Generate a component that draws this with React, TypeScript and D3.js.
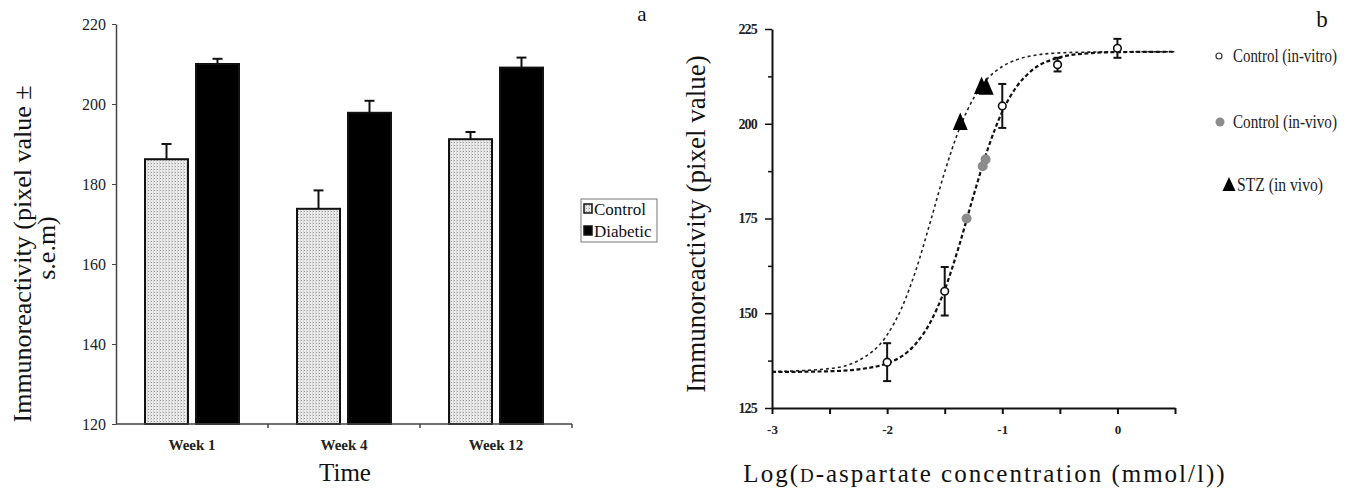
import * as d3 from 'd3';
import React, { useEffect, useRef } from "react";

// panel a: bar chart
const weeks = ["Week 1", "Week 4", "Week 12"];
const groups = ["Control", "Diabetic"];
const controlMeans = [186.2, 173.8, 191.2];
const controlErr = [3.8, 4.6, 1.8];
const diabeticMeans = [210.0, 197.8, 209.1];
const diabeticErr = [1.3, 3.0, 2.5];
const barTicks = [120, 140, 160, 180, 200, 220];

// panel b: dose response
const invitroLog = [-2, -1.5, -1, -0.52, 0];
const invitroMean = [137.1, 155.8, 204.7, 215.6, 219.9];
const invitroErr = [5.0, 6.4, 5.8, 1.8, 2.5];
const invivoLog = [-1.31, -1.17, -1.145];
const invivoMean = [175.0, 188.8, 190.6];
const stzLog = [-1.365, -1.18, -1.14];
const stzMean = [200.3, 209.8, 209.6];

// fitted curves
const curveLog = [-3, -2.5, -2.25, -2, -1.875, -1.75, -1.625, -1.5, -1.375, -1.25, -1.125, -1, -0.875, -0.75, -0.5, -0.25, 0, 0.5];
const controlFit = [134.5, 134.7, 135.2, 136.8, 138.6, 142.0, 147.6, 156.2, 167.8, 181.0, 193.4, 203.2, 209.8, 213.9, 217.5, 218.6, 218.9, 219.0];
const stzFit = [134.6, 135.4, 137.5, 144.3, 151.3, 161.4, 174.1, 187.3, 198.5, 206.7, 212.0, 215.1, 216.9, 217.9, 218.7, 218.9, 219.0, 219.0];
const doseYTicks = [125, 137.5, 150, 162.5, 175, 187.5, 200, 212.5, 225];
const doseXTicks = [-3, -2.5, -2, -1.5, -1, -0.5, 0, 0.5];

const legendB = ["Control (in-vitro)", "Control (in-vivo)", "STZ (in vivo)"];

const FONT = "'Liberation Serif', 'Times New Roman', serif";

const App = () => {
    const ref = useRef<SVGSVGElement>(null);

    useEffect(() => {
        const svg = d3.select(ref.current);
        svg.selectAll("*").remove();

        const defs = svg.append("defs");
        const pat = defs.append("pattern")
            .attr("id", "dots")
            .attr("width", 3)
            .attr("height", 3)
            .attr("patternUnits", "userSpaceOnUse");
        pat.append("rect").attr("width", 3).attr("height", 3).attr("fill", "#ececec");
        pat.append("rect").attr("x", 1).attr("y", 1).attr("width", 1).attr("height", 1).attr("fill", "#9a9a9a");
        pat.append("rect").attr("x", 0).attr("y", 0).attr("width", 1).attr("height", 3).attr("fill", "#d6d6d6");

        // ---------- panel a ----------
        const x = d3.scaleBand().domain(weeks).range([116, 572]);
        const xs = d3.scaleBand().domain(groups).range([0, x.bandwidth()])
            .paddingInner(0.157).paddingOuter(0.569);
        const y = d3.scaleLinear().domain([120, 220]).range([424, 24]);

        const a = svg.append("g");

        const rows = weeks.map((w, i) => [
            { week: w, group: "Control", v: controlMeans[i], e: controlErr[i] },
            { week: w, group: "Diabetic", v: diabeticMeans[i], e: diabeticErr[i] }
        ]).flat();

        // error bars behind the bars
        rows.forEach(function (d) {
            const cx = x(d.week)! + xs(d.group)! + xs.bandwidth() / 2;
            a.append("line")
                .attr("x1", cx).attr("x2", cx)
                .attr("y1", y(d.v)).attr("y2", y(d.v + d.e))
                .attr("stroke", "#111").attr("stroke-width", 2);
            a.append("line")
                .attr("x1", cx - 5).attr("x2", cx + 5)
                .attr("y1", y(d.v + d.e)).attr("y2", y(d.v + d.e))
                .attr("stroke", "#111").attr("stroke-width", 2);
        });

        a.selectAll("rect.bar")
            .data(rows)
            .enter().append("rect")
            .attr("class", "bar")
            .attr("x", d => x(d.week)! + xs(d.group)!)
            .attr("y", d => y(d.v))
            .attr("width", xs.bandwidth())
            .attr("height", d => y(120) - y(d.v))
            .attr("fill", d => d.group === "Control" ? "url(#dots)" : "#000")
            .attr("stroke", "#111")
            .attr("stroke-width", 2);

        const yAxisA = a.append("g")
            .attr("transform", "translate(116,0)")
            .call(d3.axisLeft(y).tickValues(barTicks).tickSize(4).tickSizeOuter(0).tickPadding(6));
        yAxisA.select(".domain").attr("stroke", "#444").attr("stroke-width", 1.5);
        yAxisA.selectAll(".tick line").attr("stroke", "#444");
        yAxisA.selectAll("text").attr("font-family", FONT).attr("font-size", 16).attr("fill", "#222");

        a.append("line")
            .attr("x1", 116).attr("x2", 572)
            .attr("y1", y(120)).attr("y2", y(120))
            .attr("stroke", "#444").attr("stroke-width", 1.5);
        weeks.forEach(function (w) {
            const tx = x(w)! + x.bandwidth();
            a.append("line")
                .attr("x1", tx).attr("x2", tx)
                .attr("y1", y(120)).attr("y2", y(120) + 4)
                .attr("stroke", "#444").attr("stroke-width", 1.5);
            a.append("text")
                .attr("x", x(w)! + x.bandwidth() / 2)
                .attr("y", 450)
                .attr("text-anchor", "middle")
                .attr("font-family", FONT)
                .attr("font-weight", "bold")
                .attr("font-size", 15)
                .attr("fill", "#222")
                .text(w);
        });

        a.append("text")
            .attr("x", 345).attr("y", 481)
            .attr("text-anchor", "middle")
            .attr("font-family", FONT).attr("font-size", 25).attr("fill", "#111")
            .text("Time");

        a.append("text")
            .attr("transform", "translate(31,254) rotate(-90)")
            .attr("text-anchor", "middle")
            .attr("font-family", FONT).attr("font-size", 26).attr("fill", "#111")
            .text("Immunoreactivity (pixel value \u00b1");
        a.append("text")
            .attr("transform", "translate(55,248) rotate(-90)")
            .attr("text-anchor", "middle")
            .attr("font-family", FONT).attr("font-size", 26).attr("fill", "#111")
            .text("s.e.m)");

        a.append("text")
            .attr("x", 642).attr("y", 21)
            .attr("text-anchor", "middle")
            .attr("font-family", FONT).attr("font-size", 21).attr("fill", "#111")
            .text("a");

        // legend a
        const lg = a.append("g");
        lg.append("rect")
            .attr("x", 581).attr("y", 199).attr("width", 76).attr("height", 43)
            .attr("fill", "#fff").attr("stroke", "#777").attr("stroke-width", 1);
        groups.forEach(function (g, i) {
            const ly = 215 + i * 22;
            lg.append("rect")
                .attr("x", 584).attr("y", ly - 11).attr("width", 8).attr("height", 9)
                .attr("fill", g === "Control" ? "url(#dots)" : "#000")
                .attr("stroke", "#111").attr("stroke-width", 1.5);
            lg.append("text")
                .attr("x", 594).attr("y", ly)
                .attr("font-family", FONT).attr("font-size", 17).attr("fill", "#111")
                .text(g);
        });

        // ---------- panel b ----------
        const xr = d3.scaleLinear().domain([-3, 0.5]).range([772, 1175]);
        const yr = d3.scaleLinear().domain([125, 225]).range([408, 29]);
        const b = svg.append("g");

        const yAxisB = b.append("g")
            .attr("transform", "translate(772,0)")
            .call(d3.axisLeft(yr).tickValues(doseYTicks).tickSizeOuter(0).tickPadding(9)
                .tickFormat(d => (+d % 25 === 0 ? String(d) : "")));
        yAxisB.select(".domain").attr("stroke", "#111").attr("stroke-width", 2);
        yAxisB.selectAll(".tick line")
            .attr("stroke", "#111").attr("stroke-width", 1.5)
            .attr("x2", (d: any) => (d % 25 === 0 ? -7 : -4));
        yAxisB.selectAll("text").attr("font-family", FONT).attr("font-size", 14)
            .attr("font-weight", "bold").attr("fill", "#222").attr("letter-spacing", -0.8);

        const xAxisB = b.append("g")
            .attr("transform", "translate(0,408)")
            .call(d3.axisBottom(xr).tickValues(doseXTicks).tickSize(6).tickSizeOuter(0).tickPadding(11)
                .tickFormat(d => (Number.isInteger(+d) ? String(d) : "")));
        xAxisB.select(".domain").attr("stroke", "#111").attr("stroke-width", 2);
        xAxisB.selectAll(".tick line").attr("stroke", "#111").attr("stroke-width", 2);
        xAxisB.selectAll("text").attr("font-family", FONT).attr("font-size", 13)
            .attr("font-weight", "bold").attr("fill", "#222");

        const line = d3.line<number>()
            .x((d, i) => xr(curveLog[i]))
            .y(d => yr(d))
            .curve(d3.curveMonotoneX);

        b.append("path")
            .attr("d", line(stzFit))
            .attr("fill", "none").attr("stroke", "#222")
            .attr("stroke-width", 1.6).attr("stroke-dasharray", "3,3");
        b.append("path")
            .attr("d", line(controlFit))
            .attr("fill", "none").attr("stroke", "#111")
            .attr("stroke-width", 2.2).attr("stroke-dasharray", "4,2.5");

        // in-vitro error bars
        invitroLog.forEach(function (lx, i) {
            const cx = xr(lx);
            const top = yr(invitroMean[i] + invitroErr[i]);
            const bot = yr(invitroMean[i] - invitroErr[i]);
            b.append("line").attr("x1", cx).attr("x2", cx).attr("y1", top).attr("y2", bot)
                .attr("stroke", "#111").attr("stroke-width", 2);
            [top, bot].forEach(function (yy) {
                b.append("line").attr("x1", cx - 4).attr("x2", cx + 4).attr("y1", yy).attr("y2", yy)
                    .attr("stroke", "#111").attr("stroke-width", 2);
            });
        });

        b.selectAll("circle.vivo")
            .data(invivoMean)
            .enter().append("circle")
            .attr("class", "vivo")
            .attr("cx", (d, i) => xr(invivoLog[i]))
            .attr("cy", d => yr(d))
            .attr("r", 5)
            .attr("fill", "#8c8c8c");

        b.selectAll("circle.vitro")
            .data(invitroMean)
            .enter().append("circle")
            .attr("class", "vitro")
            .attr("cx", (d, i) => xr(invitroLog[i]))
            .attr("cy", d => yr(d))
            .attr("r", 3.8)
            .attr("fill", "#fff")
            .attr("stroke", "#111")
            .attr("stroke-width", 1.6);

        const tri = "M0,-10L7.5,7.5L-7.5,7.5Z";
        b.selectAll("path.stz")
            .data(stzMean)
            .enter().append("path")
            .attr("class", "stz")
            .attr("d", tri)
            .attr("transform", (d, i) => "translate(" + xr(stzLog[i]) + "," + yr(d) + ")")
            .attr("fill", "#000");

        b.append("text")
            .attr("transform", "translate(705,224) rotate(-90)")
            .attr("text-anchor", "middle")
            .attr("font-family", FONT).attr("font-size", 27).attr("fill", "#111")
            .text("Immunoreactivity (pixel value)");

        const xl = b.append("text")
            .attr("x", 985).attr("y", 482)
            .attr("text-anchor", "middle")
            .attr("font-family", FONT).attr("font-size", 25).attr("letter-spacing", 2)
            .attr("fill", "#111");
        xl.append("tspan").text("Log(");
        xl.append("tspan").attr("font-size", 19).text("D");
        xl.append("tspan").text("-aspartate concentration (mmol/l))");

        b.append("text")
            .attr("x", 1322).attr("y", 27)
            .attr("text-anchor", "middle")
            .attr("font-family", FONT).attr("font-size", 23).attr("fill", "#111")
            .text("b");

        // legend b
        const legY = [56, 122, 185];
        legendB.forEach(function (t, i) {
            const ly = legY[i];
            if (i === 0) {
                b.append("circle").attr("cx", 1219).attr("cy", ly).attr("r", 3)
                    .attr("fill", "#fff").attr("stroke", "#333").attr("stroke-width", 1.2);
            } else if (i === 1) {
                b.append("circle").attr("cx", 1220).attr("cy", ly).attr("r", 4.5)
                    .attr("fill", "#8c8c8c");
            } else {
                b.append("path").attr("d", "M0,-8L6.5,6L-6.5,6Z")
                    .attr("transform", "translate(1229," + ly + ")").attr("fill", "#000");
            }
            b.append("text")
                .attr("x", i === 2 ? 1237 : 1233).attr("y", ly + 6)
                .attr("font-family", FONT).attr("font-size", 18).attr("fill", "#222")
                .attr("textLength", i === 2 ? 86 : 104)
                .attr("lengthAdjust", "spacingAndGlyphs")
                .text(t);
        });
    }, []);

    return (
        <svg ref={ref} width={1357} height={493}
             style={{ position: "absolute", left: 0, top: 0, background: "#fff" }} />
    );
};

export default App;
